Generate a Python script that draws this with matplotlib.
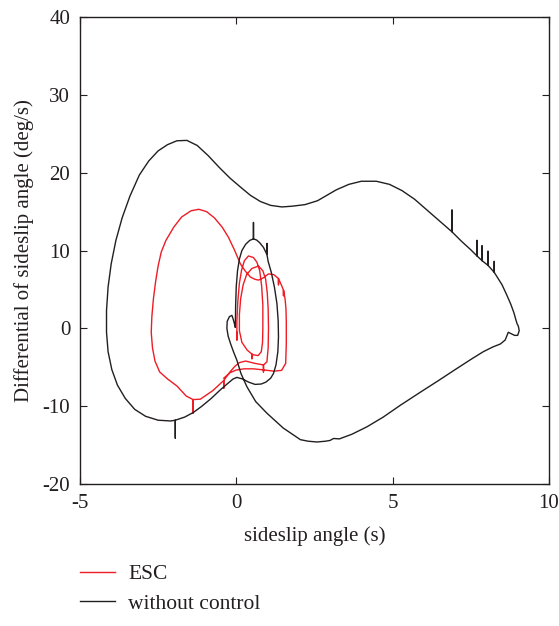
import numpy as np
import matplotlib.pyplot as plt

plt.rcParams['font.family'] = 'Liberation Serif'
plt.rcParams['axes.unicode_minus'] = False

# without control trajectory: (sideslip angle, differential of sideslip angle)
black_pts = [
    (-0.03, 0.17), (-0.1, 1.2), (-0.14, 1.67), (-0.22, 1.5), (-0.29, 0.9), (-0.3, 0.0),
    (-0.26, -1.0), (-0.18, -2.0), (-0.08, -3.1), (0.02, -4.1), (0.15, -5.8), (0.34, -7.5),
    (0.62, -9.4), (0.98, -10.9), (1.5, -12.8), (2.05, -14.3), (2.3, -14.5), (2.58, -14.6),
    (2.85, -14.5), (3.0, -14.4), (3.11, -14.15), (3.3, -14.2), (3.7, -13.6), (4.18, -12.65),
    (4.7, -11.4), (5.24, -9.9), (5.85, -8.3), (6.47, -6.7), (7.0, -5.3), (7.5, -4.0),
    (7.9, -3.0), (8.2, -2.4), (8.45, -2.0), (8.6, -1.5), (8.7, -0.5), (8.8, -0.7),
    (8.9, -0.9), (9.0, -0.9), (9.05, -0.3), (9.02, 0.3), (8.98, 0.6), (8.95, 1.0),
    (8.88, 2.0), (8.78, 3.1), (8.65, 4.3), (8.5, 5.6), (8.3, 6.9),
    (8.25, 7.2), (8.25, 8.6), (8.25, 7.2),
    (8.05, 8.1), (8.05, 9.9), (8.05, 8.1),
    (7.86, 8.7), (7.86, 10.6), (7.86, 8.7),
    (7.7, 9.3), (7.7, 11.3), (7.7, 9.3),
    (7.5, 10.1), (7.2, 11.2),
    (6.9, 12.4), (6.9, 15.2), (6.9, 12.4),
    (6.5, 13.8), (6.1, 15.2), (5.7, 16.6), (5.3, 17.7), (4.9, 18.5), (4.48, 18.9),
    (4.0, 18.9), (3.6, 18.5), (3.2, 17.8), (2.9, 17.1), (2.6, 16.4), (2.2, 15.9),
    (1.8, 15.7), (1.46, 15.6), (1.1, 15.8), (0.77, 16.3), (0.45, 17.1), (0.15, 18.1),
    (-0.2, 19.3), (-0.55, 20.7), (-0.9, 22.2), (-1.25, 23.5), (-1.58, 24.15), (-1.9, 24.1),
    (-2.2, 23.6), (-2.5, 22.8), (-2.8, 21.5), (-3.1, 19.7), (-3.4, 17.0), (-3.65, 14.2),
    (-3.85, 11.3), (-4.0, 8.3), (-4.1, 5.3), (-4.15, 2.3), (-4.15, -0.5), (-4.1, -3.0),
    (-3.98, -5.3), (-3.8, -7.3), (-3.55, -9.0), (-3.25, -10.4), (-2.9, -11.3), (-2.5, -11.8),
    (-2.1, -11.9),
    (-1.95, -11.8), (-1.95, -14.1), (-1.95, -11.8),
    (-1.65, -11.4), (-1.37, -10.8), (-1.1, -10.0), (-0.8, -9.0), (-0.51, -7.9), (-0.25, -7.0),
    (-0.1, -6.5), (0.02, -6.3), (0.2, -6.5), (0.39, -6.9), (0.6, -7.2), (0.8, -7.15),
    (0.95, -6.9), (1.1, -6.4), (1.19, -5.8), (1.27, -4.7), (1.33, -3.0), (1.35, -1.1),
    (1.34, 1.0), (1.3, 3.2), (1.22, 5.3), (1.12, 7.2), (1.02, 8.6),
    (0.98, 9.5), (0.98, 10.9), (0.98, 9.5),
    (0.87, 10.4), (0.75, 11.0), (0.65, 11.35),
    (0.55, 11.5), (0.55, 13.6), (0.55, 11.5),
    (0.43, 11.3), (0.3, 10.8), (0.18, 10.0), (0.1, 8.9), (0.04, 7.4), (0.0, 5.4),
    (-0.02, 3.0), (-0.03, 0.17),
]

# ESC trajectory
esc_pts = [
    (0.02, -0.5), (0.02, -1.5), (0.02, 1.0), (0.05, 3.5), (0.1, 5.8), (0.17, 7.5),
    (0.26, 8.7), (0.39, 9.3), (0.55, 9.1), (0.66, 8.5), (0.75, 7.4), (0.81, 5.5),
    (0.85, 3.0), (0.85, 0.0), (0.84, -1.8), (0.8, -3.0), (0.7, -3.5), (0.55, -3.4),
    (0.5, -3.3), (0.5, -3.9), (0.5, -3.3),
    (0.35, -2.8), (0.18, -1.8), (0.1, -0.3), (0.1, 1.8), (0.14, 3.8), (0.22, 5.6),
    (0.33, 6.9), (0.5, 7.7), (0.71, 8.0), (0.85, 7.4), (0.94, 6.3), (0.99, 4.6),
    (1.02, 2.5), (1.03, 0.0), (1.02, -2.5), (0.98, -4.3),
    (0.87, -4.7), (0.87, -5.6), (0.87, -4.7),
    (0.6, -4.5), (0.3, -4.2), (0.1, -4.4), (-0.05, -4.9), (-0.2, -5.6),
    (-0.4, -6.7), (-0.4, -7.7), (-0.4, -6.7),
    (-0.75, -8.0), (-1.15, -9.1),
    (-1.38, -9.15), (-1.38, -10.9), (-1.38, -9.15),
    (-1.6, -8.7), (-1.9, -7.4), (-2.2, -6.5), (-2.45, -5.6), (-2.6, -4.2), (-2.68, -2.5),
    (-2.72, -0.5), (-2.7, 1.5), (-2.65, 3.8), (-2.58, 6.0), (-2.5, 8.0), (-2.4, 9.8),
    (-2.25, 11.3), (-2.0, 13.0), (-1.75, 14.3), (-1.45, 15.1), (-1.2, 15.3), (-0.95, 15.0),
    (-0.7, 14.2), (-0.45, 13.0), (-0.25, 11.7), (-0.05, 10.0), (0.13, 8.3), (0.28, 7.4),
    (0.45, 6.6), (0.6, 6.3), (0.71, 6.2), (0.87, 6.5), (1.03, 7.0), (1.2, 6.9),
    (1.35, 6.4), (1.35, 5.6), (1.35, 6.4),
    (1.45, 5.5),
    (1.51, 4.9), (1.51, 4.2), (1.51, 4.9),
    (1.56, 3.8), (1.59, 2.5), (1.6, 0.8), (1.6, 0.0), (1.6, -0.8), (1.6, -2.0),
    (1.58, -4.5), (1.45, -5.4), (1.2, -5.5), (0.9, -5.35), (0.55, -5.2), (0.25, -5.2),
    (0.0, -5.35), (-0.2, -5.7), (-0.4, -6.4),
]

black_x, black_y = zip(*black_pts)
esc_x, esc_y = zip(*esc_pts)

x_ticks = [-5, 0, 5, 10]
y_ticks = [-20, -10, 0, 10, 20, 30, 40]

fig = plt.figure(figsize=(5.59, 6.26), dpi=100)
ax = fig.add_axes([0.143, 0.2268, 0.839, 0.746])

ax.plot(esc_x, esc_y, color='#ee1c25', lw=1.0, label='ESC')
ax.plot(black_x, black_y, color='#231f20', lw=1.0, label='without control')

ax.set_xlim(-5, 10)
ax.set_ylim(-20, 40)
ax.set_xticks(x_ticks)
ax.set_yticks(y_ticks)
ax.tick_params(direction='in', length=5, width=0.8, labelsize=15, colors='#231f20',
               top=True, right=True, pad=7)
for s in ax.spines.values():
    s.set_linewidth(1.0)
    s.set_color('#231f20')

ax.set_xlabel('sideslip angle (s)', fontsize=15, color='#231f20', labelpad=10)
ax.set_ylabel('Differential of sideslip angle (deg/s)', fontsize=15, color='#231f20', labelpad=6)

fig.legend(loc='upper left', bbox_to_anchor=(0.108, 0.13), frameon=False, fontsize=15.5,
           handlelength=1.65, handletextpad=0.6, labelspacing=0.45, labelcolor='#231f20')

fig.savefig('out.png', dpi=100)
